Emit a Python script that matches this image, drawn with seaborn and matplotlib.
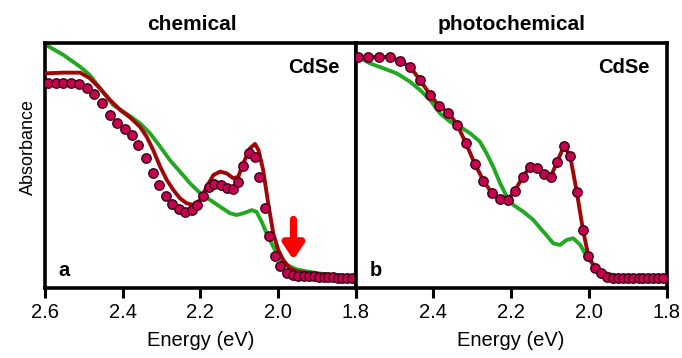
import numpy as np
import pandas as pd
import matplotlib
matplotlib.use("Agg")
import matplotlib.pyplot as plt
import seaborn as sns

sns.set_theme(style="white")
plt.rcParams['font.family'] = ['Liberation Sans', 'DejaVu Sans']
plt.rcParams['text.color'] = 'black'
plt.rcParams['axes.labelcolor'] = 'black'
plt.rcParams['xtick.color'] = 'black'
plt.rcParams['ytick.color'] = 'black'

# ---------------- data (Energy in eV, absorbance in arbitrary units) -------------
# panel a: chemical
a_dots_E = [2.591, 2.571, 2.552, 2.533, 2.512, 2.491, 2.473, 2.454, 2.432, 2.413,
            2.394, 2.376, 2.359, 2.340, 2.322, 2.305, 2.289, 2.272, 2.255, 2.239,
            2.222, 2.209, 2.194, 2.177, 2.164, 2.147, 2.132, 2.116, 2.103, 2.089,
            2.074, 2.059, 2.048, 2.032, 2.022, 2.007, 1.995, 1.977, 1.960, 1.947,
            1.934, 1.921, 1.908, 1.895, 1.882, 1.870, 1.858, 1.846, 1.834, 1.822, 1.810]
a_dots_A = [0.835, 0.835, 0.835, 0.835, 0.831, 0.815, 0.790, 0.754, 0.706, 0.672,
            0.648, 0.624, 0.584, 0.532, 0.471, 0.420, 0.377, 0.343, 0.322, 0.311,
            0.318, 0.339, 0.376, 0.414, 0.424, 0.420, 0.407, 0.404, 0.434, 0.499,
            0.552, 0.536, 0.454, 0.328, 0.212, 0.131, 0.090, 0.063, 0.053, 0.050,
            0.049, 0.048, 0.047, 0.046, 0.045, 0.044, 0.043, 0.042, 0.041, 0.040, 0.040]

a_red_E = [2.600, 2.552, 2.509, 2.484, 2.458, 2.432, 2.406, 2.381, 2.355, 2.338,
           2.321, 2.303, 2.286, 2.269, 2.252, 2.235, 2.218, 2.200, 2.183, 2.166,
           2.149, 2.132, 2.115, 2.102, 2.089, 2.072, 2.059, 2.050, 2.038, 2.025,
           2.012, 1.999, 1.986, 1.969, 1.952, 1.900, 1.850, 1.800]
a_red_A = [0.876, 0.879, 0.879, 0.856, 0.815, 0.767, 0.727, 0.697, 0.658, 0.618,
           0.563, 0.495, 0.441, 0.400, 0.366, 0.346, 0.339, 0.359, 0.414, 0.461,
           0.475, 0.468, 0.448, 0.454, 0.509, 0.570, 0.588, 0.563, 0.482, 0.346,
           0.223, 0.155, 0.114, 0.080, 0.068, 0.055, 0.048, 0.045]

a_green_E = [2.600, 2.552, 2.509, 2.484, 2.458, 2.424, 2.381, 2.355, 2.329, 2.303,
             2.278, 2.252, 2.226, 2.200, 2.174, 2.149, 2.123, 2.106, 2.089, 2.067,
             2.055, 2.042, 2.029, 2.012, 1.995, 1.977, 1.952, 1.909, 1.866, 1.800]
a_green_A = [0.995, 0.951, 0.903, 0.869, 0.815, 0.747, 0.702, 0.672, 0.631, 0.577,
             0.522, 0.475, 0.427, 0.387, 0.359, 0.332, 0.305, 0.298, 0.305, 0.318,
             0.311, 0.271, 0.223, 0.169, 0.121, 0.094, 0.076, 0.063, 0.053, 0.046]

# panel b: photochemical
b_dots_E = [2.593, 2.567, 2.539, 2.511, 2.486, 2.460, 2.434, 2.408, 2.385, 2.361,
            2.338, 2.316, 2.293, 2.271, 2.250, 2.228, 2.209, 2.190, 2.170, 2.151,
            2.132, 2.115, 2.098, 2.081, 2.064, 2.048, 2.031, 2.015, 2.001, 1.984,
            1.969, 1.954, 1.937, 1.924, 1.911, 1.898, 1.885, 1.872, 1.860, 1.847,
            1.834, 1.821, 1.808]
b_dots_A = [0.944, 0.941, 0.944, 0.941, 0.927, 0.903, 0.849, 0.788, 0.743, 0.716,
            0.665, 0.590, 0.506, 0.438, 0.389, 0.362, 0.359, 0.397, 0.454, 0.495,
            0.490, 0.464, 0.454, 0.516, 0.580, 0.539, 0.393, 0.237, 0.131, 0.080,
            0.063, 0.046, 0.040, 0.040, 0.040, 0.040, 0.040, 0.040, 0.040, 0.040,
            0.040, 0.040, 0.040]

b_green_E = [2.600, 2.593, 2.563, 2.529, 2.494, 2.460, 2.434, 2.408, 2.383, 2.357,
             2.331, 2.305, 2.280, 2.263, 2.246, 2.228, 2.211, 2.194, 2.168, 2.143,
             2.117, 2.091, 2.074, 2.057, 2.040, 2.022, 2.010, 1.997, 1.980, 1.954,
             1.928, 1.885, 1.808]
b_green_A = [0.946, 0.944, 0.917, 0.897, 0.876, 0.842, 0.808, 0.767, 0.713, 0.679,
             0.658, 0.631, 0.597, 0.550, 0.495, 0.427, 0.373, 0.339, 0.311, 0.278,
             0.230, 0.182, 0.176, 0.196, 0.203, 0.176, 0.142, 0.114, 0.080, 0.060,
             0.049, 0.044, 0.040]

x_ticks = [2.6, 2.4, 2.2, 2.0, 1.8]
titles = ["chemical", "photochemical"]
panel_letters = ["a", "b"]
sample_label = "CdSe"

# ---------------- styling ----------------
RED = "#A00808"
GREEN = "#22A822"
DOT = "#C8004E"
DOT_EDGE = "#3A0018"
FS = 14.5

fig = plt.figure(figsize=(6.82, 3.58), dpi=100)
W, H = 682, 358
def rect(x0, x1, y0, y1):
    return [x0 / W, 1 - y1 / H, (x1 - x0) / W, (y1 - y0) / H]

ax_a = fig.add_axes(rect(44.8, 355.6, 43, 288))
ax_b = fig.add_axes(rect(355.6, 666.5, 43, 288))

panels = [
    (ax_a, a_dots_E, a_dots_A, a_red_E, a_red_A, a_green_E, a_green_A),
    (ax_b, b_dots_E, b_dots_A, b_dots_E, b_dots_A, b_green_E, b_green_A),
]

for i, (ax, dE, dA, rE, rA, gE, gA) in enumerate(panels):
    sns.lineplot(x=gE, y=gA, ax=ax, color=GREEN, lw=2.8, estimator=None,
                 sort=False, zorder=2)
    sns.lineplot(x=rE, y=rA, ax=ax, color=RED, lw=2.8, estimator=None,
                 sort=False, zorder=3)
    sns.scatterplot(x=dE, y=dA, ax=ax, color=DOT, edgecolor=DOT_EDGE,
                    linewidth=1.0, s=46, zorder=4)
    ax.set_xlim(2.6, 1.8)
    ax.set_ylim(0, 1.0)
    ax.set_yticks([])
    ax.set_xticks(x_ticks)
    if i == 1:
        ax.set_xticklabels(["", "2.4", "2.2", "2.0", "1.8"])
    else:
        ax.set_xticklabels(["2.6", "2.4", "2.2", "2.0", "1.8"])
    ax.tick_params(axis="x", direction="out", length=7, width=2.2,
                   labelsize=FS, pad=4, color="black", bottom=True)
    for sp in ax.spines.values():
        sp.set_linewidth(2.6)
        sp.set_color("black")
        sp.set_visible(True)
    ax.set_xlabel("Energy (eV)", fontsize=FS)
    ax.xaxis.set_label_coords(0.5, (288 - 341) / 245)
    ax.xaxis.label.set_va("center")
    ax.set_ylabel("")
    ax.text(0.947, 0.902, sample_label, transform=ax.transAxes, ha="right",
            va="center", fontsize=FS, fontweight="bold")
    ax.text(0.045, 0.073, panel_letters[i], transform=ax.transAxes, ha="left",
            va="center", fontsize=FS, fontweight="bold")
    ax.set_facecolor("white")

fig.text(192 / W, 1 - 24 / H, titles[0], ha="center", va="center",
         fontsize=15, fontweight="bold")
fig.text(512 / W, 1 - 24 / H, titles[1], ha="center", va="center",
         fontsize=15, fontweight="bold")
fig.text(28 / W, 1 - 147 / H, "Absorbance", ha="center", va="center",
         rotation=90, fontsize=13)

# red arrow in panel a
ax_a.annotate("", xy=(1.96, 0.115), xytext=(1.96, 0.28),
              arrowprops=dict(arrowstyle="-|>,head_width=0.5,head_length=0.75",
                              color="#FF0000", lw=5.2, shrinkA=0, shrinkB=0),
              zorder=5)

fig.savefig("out.png", dpi=100, facecolor="white")
